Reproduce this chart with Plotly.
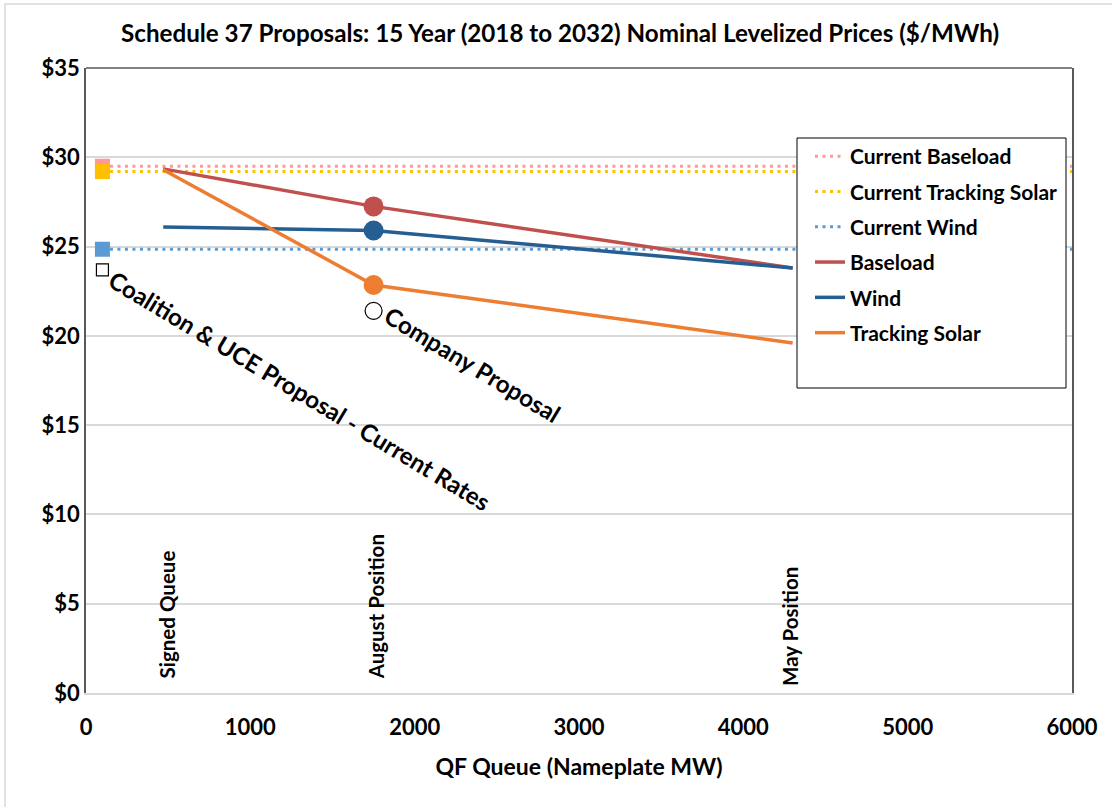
import plotly.graph_objects as go

# ---- data ----
queue_points = [470, 1750, 4300]
baseload = [29.35, 27.25, 23.8]
wind = [26.1, 25.9, 23.8]
solar = [29.3, 22.85, 19.6]

current_x = [100, 6000]
current_baseload = [29.5, 29.5]
current_solar = [29.2, 29.2]
current_wind = [24.85, 24.85]

coalition_x = [100]
coalition_y = [23.7]
company_x = [1750]
company_y = [21.4]

position_labels = ["Signed Queue", "August Position", "May Position"]
position_x = [493, 1765, 4284]
position_y = [4.4, 4.8, 3.7]

y_ticks = [0, 5, 10, 15, 20, 25, 30, 35]
y_ticklabels = ["$" + str(v) for v in y_ticks]
x_ticks = [0, 1000, 2000, 3000, 4000, 5000, 6000]

FONT = "Lato"
W, H = 1112, 807
ML, MR, MT, MB = 86, 40, 68, 114
PW, PH = W - ML - MR, H - MT - MB


def px2paper(px, py):
    return (px - ML) / PW, (H - MB - py) / PH


fig = go.Figure()

dash_dot = "3px,4.5px"
fig.add_trace(go.Scatter(x=current_x, y=current_baseload, mode="lines", name="Current Baseload",
                         line=dict(color="#FF9999", width=3, dash=dash_dot), legendgroup="a"))
fig.add_trace(go.Scatter(x=current_x, y=current_solar, mode="lines", name="Current Tracking Solar",
                         line=dict(color="#FFC000", width=3, dash=dash_dot), legendgroup="b"))
fig.add_trace(go.Scatter(x=current_x, y=current_wind, mode="lines", name="Current Wind",
                         line=dict(color="#5B9BD5", width=3, dash=dash_dot), legendgroup="c"))

# start markers for current series
fig.add_trace(go.Scatter(x=current_x[:1], y=current_baseload[:1], mode="markers", showlegend=False,
                         marker=dict(symbol="square", size=15, color="#FF9999")))
fig.add_trace(go.Scatter(x=current_x[:1], y=current_solar[:1], mode="markers", showlegend=False,
                         marker=dict(symbol="square", size=15, color="#FFC000")))
fig.add_trace(go.Scatter(x=current_x[:1], y=current_wind[:1], mode="markers", showlegend=False,
                         marker=dict(symbol="square", size=15, color="#5B9BD5")))

fig.add_trace(go.Scatter(x=queue_points, y=baseload, mode="lines", name="Baseload",
                         line=dict(color="#C0504D", width=3.5), legendgroup="d"))
fig.add_trace(go.Scatter(x=queue_points, y=wind, mode="lines", name="Wind",
                         line=dict(color="#255E91", width=3.5), legendgroup="e"))
fig.add_trace(go.Scatter(x=queue_points, y=solar, mode="lines", name="Tracking Solar",
                         line=dict(color="#ED7D31", width=3.5), legendgroup="f"))

for ys, col in [(baseload, "#C0504D"), (wind, "#255E91"), (solar, "#ED7D31")]:
    fig.add_trace(go.Scatter(x=queue_points[1:2], y=ys[1:2], mode="markers", showlegend=False,
                             marker=dict(symbol="circle", size=20, color=col)))

fig.add_trace(go.Scatter(x=coalition_x, y=coalition_y, mode="markers", showlegend=False,
                         marker=dict(symbol="square", size=12, color="white",
                                     line=dict(color="black", width=1.2))))
fig.add_trace(go.Scatter(x=company_x, y=company_y, mode="markers", showlegend=False,
                         marker=dict(symbol="circle", size=17, color="white",
                                     line=dict(color="black", width=1.2))))

annotations = []
for lab, xv, yv in zip(position_labels, position_x, position_y):
    annotations.append(dict(x=xv, y=yv, xref="x", yref="y", text=lab, showarrow=False,
                            textangle=-90, font=dict(family=FONT, size=20.5, color="black", weight="bold")))

annotations.append(dict(x=1302, y=16.95, xref="x", yref="y", text="Coalition & UCE Proposal - Current Rates",
                        showarrow=False, textangle=31,
                        font=dict(family=FONT, size=24, color="black", weight="bold")))
annotations.append(dict(x=2355, y=18.4, xref="x", yref="y", text="Company Proposal",
                        showarrow=False, textangle=31,
                        font=dict(family=FONT, size=24, color="black", weight="bold")))

# title
tx, ty = px2paper(560, 33)
annotations.append(dict(x=tx, y=ty, xref="paper", yref="paper", xanchor="center", yanchor="middle",
                        text="Schedule 37 Proposals: 15 Year (2018 to 2032) Nominal Levelized Prices ($/MWh)",
                        showarrow=False, font=dict(family=FONT, size=24.2, color="black", weight="bold")))

shapes = []
# outer chart border
x0, y0 = px2paper(5, 4)
x1, y1 = px2paper(1140, 820)
shapes.append(dict(type="rect", xref="paper", yref="paper", x0=x0, y0=y1, x1=x1, y1=y0,
                   line=dict(color="#D9D9D9", width=1.5), layer="below"))
# plot top border
shapes.append(dict(type="line", xref="paper", yref="paper", x0=0, x1=1, y0=1, y1=1,
                   line=dict(color="#595959", width=1.5)))
# legend box
lx0, ly0 = px2paper(797, 138)
lx1, ly1 = px2paper(1066, 388)
shapes.append(dict(type="rect", xref="paper", yref="paper", x0=lx0, y0=ly1, x1=lx1, y1=ly0,
                   line=dict(color="black", width=1), fillcolor="white", layer="above"))
legx, legy = px2paper(797 + 13, 138 - 2)

fig.update_layout(
    width=W, height=H,
    margin=dict(l=ML, r=MR, t=MT, b=MB, autoexpand=False),
    paper_bgcolor="white", plot_bgcolor="white",
    font=dict(family=FONT, color="black"),
    showlegend=True,
    legend=dict(x=legx, y=legy, xanchor="left", yanchor="top",
                bgcolor="rgba(0,0,0,0)", borderwidth=0, tracegroupgap=5,
                font=dict(family=FONT, size=21, color="black", weight="bold")),
    annotations=annotations,
    shapes=shapes,
)
fig.update_xaxes(range=[0, 6000], tickvals=x_ticks, showgrid=False, zeroline=False,
                 showline=True, linecolor="#D9D9D9", linewidth=1.5, automargin=False,
                 ticks="", ticklabelstandoff=14,
                 tickfont=dict(family=FONT, size=22, color="black", weight="bold"),
                 title=dict(text="QF Queue (Nameplate MW)", standoff=20,
                            font=dict(family=FONT, size=23, color="black", weight="bold")))
fig.update_yaxes(range=[0, 35], tickvals=y_ticks, ticktext=y_ticklabels, showgrid=True,
                 gridcolor="#D9D9D9", gridwidth=1.5, zeroline=False, automargin=False,
                 showline=True, mirror=True, linecolor="#595959", linewidth=1.5,
                 ticks="", ticklabelstandoff=0,
                 tickfont=dict(family=FONT, size=22, color="black", weight="bold"))

fig.write_html("out.html", post_script="document.body.style.margin='0';",
               config={"displayModeBar": False})
